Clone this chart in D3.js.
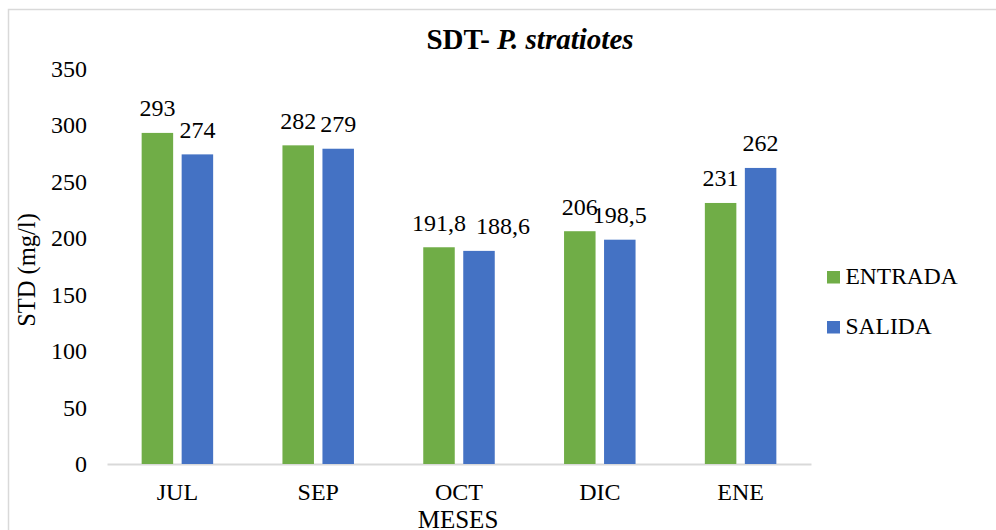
<!DOCTYPE html>
<html>
<head>
<meta charset="utf-8">
<script src="https://cdn.jsdelivr.net/npm/d3@7"></script>
</head>
<body style="margin:0;background:#fff">
<svg id="chart" width="996" height="530"></svg>
<script>
// Monthly total dissolved solids, inlet vs outlet
const months = ["JUL", "SEP", "OCT", "DIC", "ENE"];
const entrada = [293, 282, 191.8, 206, 231];
const salida = [274, 279, 188.6, 198.5, 262];
const seriesNames = ["ENTRADA", "SALIDA"];
const seriesColors = ["#70AD47", "#4472C4"];
const yTicks = [0, 50, 100, 150, 200, 250, 300, 350];

const FONT = "Liberation Serif";
const FS = 24;
const svg = d3.select("#chart");

// outer frame
svg.append("rect")
  .attr("x", 8.5).attr("y", 9.5)
  .attr("width", 1100).attr("height", 600)
  .attr("fill", "none").attr("stroke", "#d9d9d9").attr("stroke-width", 1.5);

const x = d3.scaleBand().domain(months).range([107, 811]).paddingInner(0).paddingOuter(0);
const y = d3.scaleLinear().domain([0, 350]).range([464, 68.5]);

const fmt = v => String(v).replace(".", ",");

// y tick labels
const yAxis = d3.axisLeft(y).tickValues(yTicks).tickSize(0).tickPadding(0);
const gy = svg.append("g").attr("transform", "translate(87,0)").call(yAxis);
gy.select(".domain").remove();
gy.selectAll("text").attr("fill", "#000").attr("font-family", FONT).attr("font-size", FS);

// baseline axis
const xAxis = d3.axisBottom(x).tickSize(0).tickPadding(19);
const gx = svg.append("g").attr("transform", "translate(0,464)").call(xAxis);
gx.select(".domain").attr("stroke", "#d9d9d9").attr("stroke-width", 2);
gx.selectAll("text").attr("fill", "#000").attr("font-family", FONT).attr("font-size", FS);

// bars and value labels
const barW = 31.5, gap = 8.5;
const data = months.map((m, i) => ({ m, vals: [entrada[i], salida[i]] }));
const groups = svg.append("g").selectAll("g").data(data).join("g");
groups.each(function(d) {
  const g = d3.select(this);
  const cx = x(d.m) + x.bandwidth() / 2;
  const labels = [];
  d.vals.forEach((v, j) => {
    const bx = j === 0 ? cx - gap / 2 - barW : cx + gap / 2;
    g.append("rect")
      .attr("x", bx).attr("y", y(v))
      .attr("width", barW).attr("height", y(0) - y(v))
      .attr("fill", seriesColors[j]);
    labels.push(g.append("text")
      .attr("x", bx + barW / 2).attr("y", y(v) - 16.5)
      .attr("text-anchor", "middle").attr("fill", "#000")
      .attr("font-family", FONT).attr("font-size", FS)
      .text(fmt(v)));
  });
  // nudge the second label right when both sit at nearly the same height and collide
  const [a, b] = labels;
  const ay = +a.attr("y"), by = +b.attr("y");
  const aw = a.node().getComputedTextLength(), bw = b.node().getComputedTextLength();
  const aRight = +a.attr("x") + aw / 2, bLeft = +b.attr("x") - bw / 2;
  if (Math.abs(ay - by) < 6 && bLeft < aRight + 4) {
    b.attr("x", aRight + 10 + bw / 2);
  }
});

// title
const title = svg.append("text").attr("x", 530).attr("y", 48.5)
  .attr("text-anchor", "middle").attr("font-family", FONT)
  .attr("font-size", 29).attr("font-weight", "bold").attr("fill", "#000");
title.append("tspan").text("SDT- ");
title.append("tspan").attr("font-style", "italic").text("P. stratiotes");

// axis titles
svg.append("text").attr("transform", "translate(35,270) rotate(-90)")
  .attr("text-anchor", "middle").attr("font-family", FONT).attr("font-size", 24.5)
  .attr("fill", "#000").text("STD (mg/l)");
svg.append("text").attr("x", 458).attr("y", 528)
  .attr("text-anchor", "middle").attr("font-family", FONT).attr("font-size", 25)
  .attr("fill", "#000").text("MESES");

// legend
const leg = svg.append("g").selectAll("g").data(seriesNames).join("g")
  .attr("transform", (d, i) => `translate(827,${271 + i * 50})`);
leg.append("rect").attr("width", 13).attr("height", 12.5).attr("fill", (d, i) => seriesColors[i]);
leg.append("text").attr("x", 18.5).attr("y", 13).attr("fill", "#000")
  .attr("font-family", FONT).attr("font-size", 23.5).text(d => d);
</script>
</body>
</html>
